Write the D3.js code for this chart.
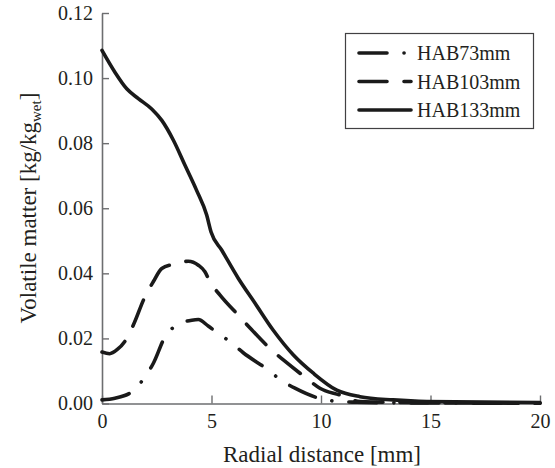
<!DOCTYPE html>
<html>
<head>
<meta charset="utf-8">
<script src="https://cdn.jsdelivr.net/npm/d3@7"></script>
</head>
<body style="margin:0;background:#fff">
<svg id="chart" width="555" height="468"></svg>
<script>
// values
var seriesNames = ['HAB73mm', 'HAB103mm', 'HAB133mm'];
var xTicks = [0, 5, 10, 15, 20];
var yTicks = [0, 0.02, 0.04, 0.06, 0.08, 0.10, 0.12];

var r73 = [0, 0.59, 1.43, 1.89, 2.34, 2.88, 3.37, 4.10, 4.40, 4.85, 5.24, 5.88, 6.45, 7.59, 8.17, 8.81, 10.03, 10.82, 11.63, 13.5, 20];
var v73 = [0.0011, 0.0016, 0.0039, 0.0075, 0.0123, 0.0205, 0.0239, 0.0256, 0.0258, 0.0238, 0.0219, 0.0188, 0.0156, 0.0103, 0.0072, 0.0047, 0.0014, 0.0006, 0.0004, 0.0002, 0.0001];

var r103 = [0, 0.35, 0.7, 1.13, 1.43, 1.96, 2.34, 2.73, 3.26, 3.94, 4.40, 4.70, 4.93, 5.39, 6.30, 6.76, 7.75, 8.28, 9.35, 9.95, 10.87, 11.78, 13.6, 20];
var v103 = [0.0158, 0.0153, 0.0166, 0.0200, 0.0241, 0.0328, 0.0374, 0.0415, 0.0428, 0.0437, 0.0425, 0.0405, 0.0374, 0.0333, 0.0266, 0.0232, 0.0164, 0.0134, 0.0077, 0.0047, 0.0026, 0.0006, 0.0003, 0.0001];

var r133 = [0, 0.59, 1.13, 1.66, 2.27, 2.73, 3.26, 3.79, 4.32, 4.78, 4.98, 5.47, 6.22, 6.99, 7.82, 8.74, 9.65, 10.72, 11.78, 13.29, 14.83, 20];
var v133 = [0.1085, 0.1018, 0.0967, 0.0937, 0.0905, 0.0870, 0.0809, 0.0732, 0.0655, 0.0579, 0.0527, 0.0471, 0.0385, 0.0308, 0.0225, 0.0149, 0.0093, 0.0041, 0.0021, 0.0011, 0.0006, 0.0003];

var dashes = ['28,17,0.1,17', '28,17', null];
var serif = '"Liberation Serif", "Times New Roman", serif';

var svg = d3.select('#chart');

var x = d3.scaleLinear().domain([0, 20]).range([102, 540]);
var y = d3.scaleLinear().domain([0, 0.12]).range([403.5, 13]);

// axes, ticks pointing inwards
var xAxis = svg.append('g')
    .attr('transform', 'translate(0,' + y(0) + ')')
    .call(d3.axisBottom(x).tickValues(xTicks).tickFormat(d3.format('d'))
      .tickSizeInner(-8).tickSizeOuter(0).tickPadding(10));

var yAxis = svg.append('g')
    .attr('transform', 'translate(' + x(0) + ',0)')
    .call(d3.axisLeft(y).tickValues(yTicks).tickFormat(d3.format('.2f'))
      .tickSizeInner(-7).tickSizeOuter(0).tickPadding(9));

[xAxis, yAxis].forEach(function(a) {
  a.select('.domain').attr('stroke', '#6d6e70').attr('stroke-width', 1.6);
  a.selectAll('.tick line').attr('stroke', '#6d6e70').attr('stroke-width', 1.4);
  a.selectAll('.tick text')
      .style('font-family', serif)
      .style('font-size', '20px')
      .attr('fill', '#231f20');
});

// axis titles
svg.append('text')
    .attr('x', 322)
    .attr('y', 462)
    .attr('text-anchor', 'middle')
    .style('font-family', serif)
    .style('font-size', '23px')
    .attr('fill', '#231f20')
    .text('Radial distance [mm]');

var yTitle = svg.append('text')
    .attr('transform', 'translate(36,208) rotate(-90)')
    .attr('text-anchor', 'middle')
    .style('font-family', serif)
    .style('font-size', '23px')
    .attr('fill', '#231f20');
yTitle.append('tspan').text('Volatile matter [kg/kg');
yTitle.append('tspan').style('font-size', '15px').attr('dy', 5).text('wet');
yTitle.append('tspan').attr('dy', -5).text(']');

// curves
var line = d3.line()
    .x(function(d) { return x(d[0]); })
    .y(function(d) { return y(d[1]); })
    .curve(d3.curveMonotoneX);

var series = [d3.zip(r73, v73), d3.zip(r103, v103), d3.zip(r133, v133)];

series.forEach(function(s, i) {
  svg.append('path')
      .datum(s)
      .attr('d', line)
      .attr('fill', 'none')
      .attr('stroke', '#1a1a1a')
      .attr('stroke-width', 3.6)
      .attr('stroke-linecap', 'round')
      .attr('stroke-linejoin', 'round')
      .attr('stroke-dasharray', dashes[i]);
});

// legend
var legend = svg.append('g');
legend.append('rect')
    .attr('x', 345.5)
    .attr('y', 33.5)
    .attr('width', 188)
    .attr('height', 95)
    .attr('fill', '#fff')
    .attr('stroke', '#414042')
    .attr('stroke-width', 1.2);

seriesNames.forEach(function(name, i) {
  var ly = 53 + i * 28.5;
  legend.append('line')
      .attr('x1', 359)
      .attr('x2', 411)
      .attr('y1', ly)
      .attr('y2', ly)
      .attr('stroke', '#1a1a1a')
      .attr('stroke-width', 3.6)
      .attr('stroke-linecap', 'round')
      .attr('stroke-dasharray', dashes[i]);
  legend.append('text')
      .attr('x', 417)
      .attr('y', ly + 7)
      .style('font-family', serif)
      .style('font-size', '20px')
      .attr('fill', '#231f20')
      .text(name);
});
</script>
</body>
</html>
